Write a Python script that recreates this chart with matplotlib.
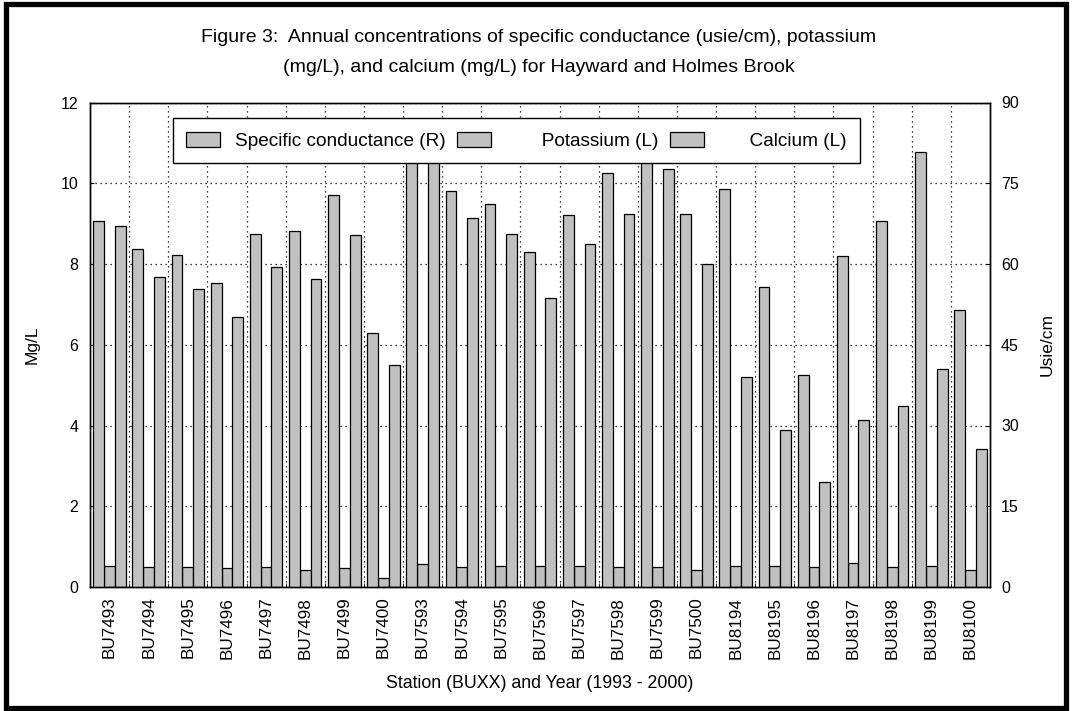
import matplotlib
matplotlib.use("Agg")
import matplotlib.pyplot as plt
import numpy as np
from matplotlib.patches import Rectangle, Patch

plt.rcParams['font.family'] = ['Liberation Sans', 'DejaVu Sans']

## values
stations = ["BU7493", "BU7494", "BU7495", "BU7496", "BU7497", "BU7498", "BU7499", "BU7400",
            "BU7593", "BU7594", "BU7595", "BU7596", "BU7597", "BU7598", "BU7599", "BU7500",
            "BU8194", "BU8195", "BU8196", "BU8197", "BU8198", "BU8199", "BU8100"]
conductance = [67.9, 62.7, 61.6, 56.5, 65.6, 66.2, 72.9, 47.2, 84.0, 73.6, 71.2, 62.2,
               69.1, 76.9, 82.0, 69.2, 73.9, 55.8, 39.3, 61.4, 68.0, 80.8, 51.5]
potassium = [0.51, 0.49, 0.49, 0.47, 0.49, 0.43, 0.46, 0.22, 0.58, 0.49, 0.53, 0.51,
             0.53, 0.49, 0.49, 0.43, 0.53, 0.53, 0.49, 0.59, 0.49, 0.53, 0.43]
calcium = [8.93, 7.67, 7.38, 6.69, 7.93, 7.63, 8.72, 5.50, 10.9, 9.15, 8.75, 7.15,
           8.50, 9.23, 10.35, 8.01, 5.20, 3.89, 2.61, 4.13, 4.48, 5.39, 3.42]

W, H = 1073, 711
fig = plt.figure(figsize=(W / 100, H / 100), dpi=100)
ax = fig.add_axes([90 / W, 1 - 587 / H, 900 / W, 484.5 / H])
ax2 = ax.twinx()

x = np.arange(len(stations))
w = 0.276
grey = "#c0c0c0"
ax2.bar(x - w, conductance, w, color=grey, edgecolor="black", linewidth=0.9)
ax.bar(x, potassium, w, color=grey, edgecolor="black", linewidth=0.9)
ax.bar(x + w, calcium, w, color=grey, edgecolor="black", linewidth=0.9)

ax.set_xlim(-0.5, len(stations) - 0.5)
ax.set_ylim(0, 12)
ax2.set_ylim(0, 90)
ax.set_yticks(np.arange(0, 13, 2))
ax2.set_yticks(np.arange(0, 91, 15))

ax.set_xticks(x)
ax.set_xticklabels(stations, rotation=90, fontsize=12.3)
ax.set_xticks(np.arange(0.5, len(stations) - 1, 1), minor=True)
ax.tick_params(axis="x", which="major", length=0, pad=7)
ax.tick_params(axis="x", which="minor", direction="in", length=3)
ax.tick_params(axis="y", direction="in", length=3, labelsize=11.5, pad=8.5)
ax2.tick_params(axis="y", direction="in", length=3, labelsize=11.5, pad=8)

ax.set_axisbelow(True)
ax.grid(True, which="minor", axis="x", color="black", linestyle=(0, (1, 3)), linewidth=0.9)
ax.grid(True, which="major", axis="y", color="black", linestyle=(0, (1, 3)), linewidth=0.9)
for s in list(ax.spines.values()) + list(ax2.spines.values()):
    s.set_linewidth(1.0)

ax.set_ylabel("Mg/L", fontsize=12.5, labelpad=15)
ax2.set_ylabel("Usie/cm", fontsize=12.5, labelpad=15)
ax.set_xlabel("Station (BUXX) and Year (1993 - 2000)", fontsize=12.8, labelpad=12)

fig.text(539 / W, 1 - 37 / H, "Figure 3:  Annual concentrations of specific conductance (usie/cm), potassium",
         ha="center", va="center", fontsize=14)
fig.text(539 / W, 1 - 67 / H, "(mg/L), and calcium (mg/L) for Hayward and Holmes Brook",
         ha="center", va="center", fontsize=14)

handles = [Patch(facecolor=grey, edgecolor="black", linewidth=0.9) for i in range(3)]
labels = ["Specific conductance (R)", "       Potassium (L)", "      Calcium (L)"]
leg = ax2.legend(handles, labels, ncol=3, loc="upper left",
                 bbox_to_anchor=(172.7 / W, 1 - 118.3 / H), bbox_transform=fig.transFigure,
                 fontsize=13.7, frameon=True, fancybox=False, framealpha=1, edgecolor="black",
                 borderpad=0.7, handlelength=1.8, handleheight=0.9, handletextpad=0.75,
                 columnspacing=0.6, borderaxespad=0)
leg.get_frame().set_linewidth(1.0)

# outer frame around the whole picture
fig.patches.append(Rectangle((5.5 / W, 3.5 / H), 1060 / W, 704 / H, transform=fig.transFigure,
                             fill=False, edgecolor="black", linewidth=3.8))

fig.savefig("out.png", dpi=100)
